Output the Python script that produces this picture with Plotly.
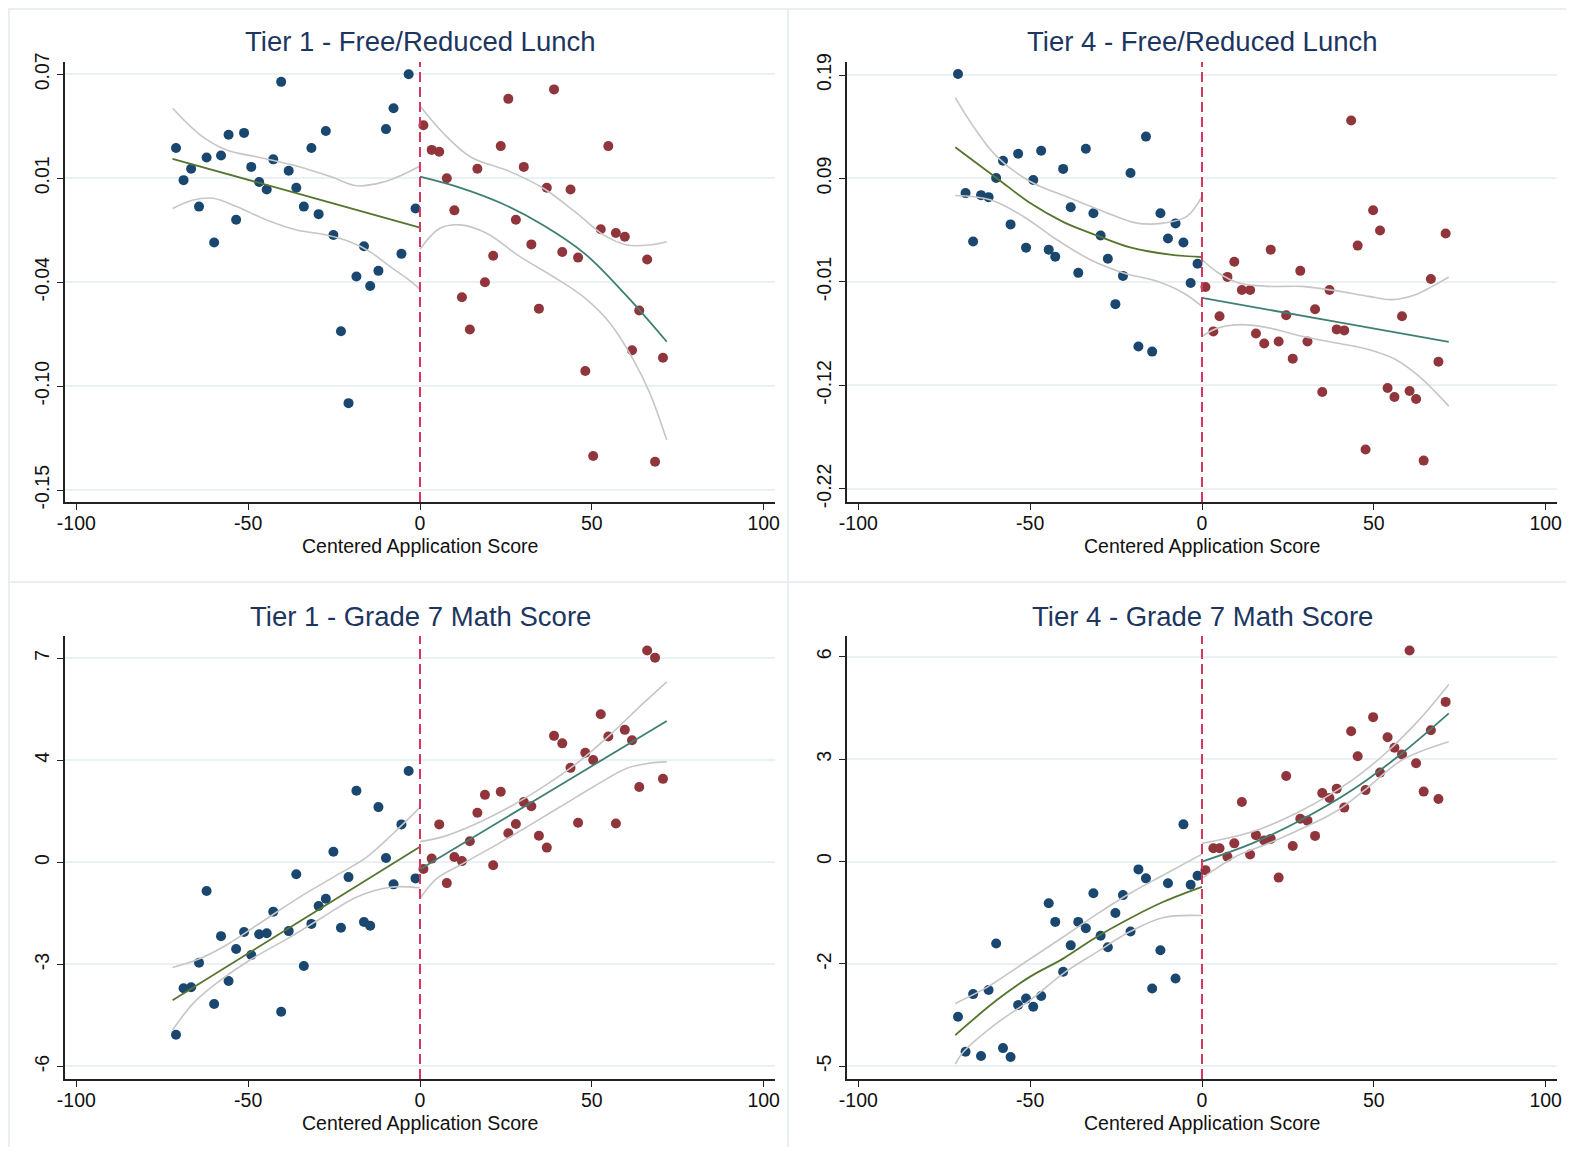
import plotly.graph_objects as go

# ---------------- data (binned means) ----------------
x_left = [-71.0, -68.8, -66.6, -64.3, -62.1, -59.9, -57.9, -55.7, -53.5, -51.2, -49.1,
          -46.8, -44.6, -42.7, -40.4, -38.2, -36.0, -33.8, -31.6, -29.5, -27.4, -25.2,
          -23.0, -20.8, -18.5, -16.3, -14.5, -12.1, -9.9, -7.7, -5.4, -3.3, -1.3]
x_right_t1 = [1.0, 3.4, 5.6, 7.8, 10.0, 12.2, 14.5, 16.7, 18.9, 21.3, 23.5, 25.7, 27.9,
              30.2, 32.4, 34.6, 36.9, 39.0, 41.4, 43.8, 46.0, 48.1, 50.4, 52.6, 54.8,
              57.0, 59.6, 61.7, 63.8, 66.1, 68.4, 70.7]
x_right_t4 = [1.0, 3.3, 5.1, 7.4, 9.4, 11.6, 14.0, 15.7, 18.1, 20.0, 22.3, 24.5, 26.4,
              28.6, 30.7, 32.9, 35.0, 37.1, 39.2, 41.4, 43.4, 45.3, 47.6, 49.8, 51.8,
              54.0, 56.0, 58.2, 60.4, 62.3, 64.5, 66.6, 68.8, 70.9]

# Tier 1 - Free/Reduced Lunch
t1_frl_left = [0.031, 0.014, 0.020, 0.000, 0.026, -0.019, 0.027, 0.038, -0.007, 0.039, 0.021,
               0.013, 0.009, 0.025, 0.066, 0.019, 0.010, 0.000, 0.031, -0.004, 0.040, -0.015,
               -0.066, -0.104, -0.037, -0.021, -0.042, -0.034, 0.041, 0.052, -0.025, 0.070, -0.001]
t1_frl_right = [0.043, 0.030, 0.029, 0.015, -0.002, -0.048, -0.065, 0.020, -0.040, -0.026, 0.032,
                0.057, -0.007, 0.021, -0.020, -0.054, 0.010, 0.062, -0.024, 0.009, -0.027, -0.087,
                -0.132, -0.012, 0.032, -0.014, -0.016, -0.076, -0.055, -0.028, -0.135, -0.080]
t1_frl_fit_l_x = [-72, -36, 0]
t1_frl_fit_l_y = [0.0253, 0.0071, -0.0111]
t1_frl_hi_l_x = [-72, -64, -56.3, -46.6, -34.9, -26.2, -18.4, -10.7, -4.9, 0]
t1_frl_hi_l_y = [0.052, 0.038, 0.030, 0.026, 0.021, 0.016, 0.011, 0.013, 0.017, 0.0215]
t1_frl_lo_l_x = [-72, -66, -60.2, -53.4, -44.6, -35.9, -27.2, -20.4, -14.6, -8.7, -3.9, 0]
t1_frl_lo_l_y = [-0.001, 0.0035, 0.0044, 0.0, -0.0071, -0.0124, -0.015, -0.0186, -0.0238,
                 -0.0318, -0.0379, -0.0437]
t1_frl_fit_r_x = [0, 12, 24, 36, 48, 60, 71.8]
t1_frl_fit_r_y = [0.0158, 0.0098, 0.0015, -0.0100, -0.0250, -0.0470, -0.0715]
t1_frl_hi_r_x = [0, 6.8, 14.6, 26.2, 35.9, 45.6, 53.4, 60.2, 66.9, 71.8]
t1_frl_hi_r_y = [0.0532, 0.0388, 0.0264, 0.0185, 0.0097, -0.0035, -0.015, -0.0203, -0.0203, -0.0186]
t1_frl_lo_r_x = [0, 5.8, 11.6, 19.4, 29.1, 38.8, 47.5, 55.3, 62.1, 66.9, 71.8]
t1_frl_lo_r_y = [-0.0226, -0.0115, -0.0097, -0.0141, -0.0265, -0.0371, -0.0477, -0.0617,
                 -0.0811, -0.0988, -0.1235]

# Tier 4 - Free/Reduced Lunch
t4_frl_left = [0.191, 0.073, 0.025, 0.071, 0.069, 0.088, 0.105, 0.042, 0.112, 0.019, 0.086,
               0.115, 0.017, 0.010, 0.097, 0.059, -0.006, 0.117, 0.053, 0.031, 0.008, -0.037,
               -0.009, 0.093, -0.079, 0.129, -0.084, 0.053, 0.028, 0.043, 0.024, -0.016, 0.003]
t4_frl_right = [-0.020, -0.064, -0.049, -0.010, 0.005, -0.023, -0.023, -0.066, -0.076, 0.017,
                -0.074, -0.048, -0.091, -0.004, -0.074, -0.042, -0.124, -0.023, -0.062, -0.063,
                0.145, 0.021, -0.181, 0.056, 0.036, -0.120, -0.129, -0.049, -0.123, -0.131,
                -0.192, -0.012, -0.094, 0.033]
t4_frl_fit_l_x = [-71.8, -59.7, -50, -40.3, -30.6, -20.9, -9.2, 0]
t4_frl_fit_l_y = [0.1185, 0.0878, 0.0631, 0.0443, 0.0311, 0.0192, 0.012, 0.0097]
t4_frl_hi_l_x = [-71.8, -66.5, -59.7, -50, -38.4, -28.7, -18.9, -11.2, -4.4, 0]
t4_frl_hi_l_y = [0.1676, 0.1389, 0.1092, 0.0845, 0.0681, 0.0548, 0.0433, 0.0433, 0.0499, 0.0698]
t4_frl_lo_l_x = [-71.8, -61.6, -52, -42.2, -32.5, -22.8, -13.1, -5.4, 0]
t4_frl_lo_l_y = [0.0706, 0.0664, 0.0499, 0.0268, 0.007, -0.0061, -0.0144, -0.0259, -0.0392]
t4_frl_fit_r_x = [0, 35.9, 71.8]
t4_frl_fit_r_y = [-0.0308, -0.0526, -0.0744]
t4_frl_hi_r_x = [0, 4.8, 10.7, 19.4, 29.1, 38.8, 48.5, 55.3, 62.1, 67, 71.8]
t4_frl_hi_r_y = [0.007, -0.0061, -0.016, -0.0194, -0.0194, -0.0236, -0.0293, -0.0325, -0.0276,
                 -0.0194, -0.0101]
t4_frl_lo_r_x = [0, 4.8, 11.6, 19.4, 29.1, 38.8, 48.5, 56.3, 63.1, 71.8]
t4_frl_lo_r_y = [-0.0688, -0.0605, -0.0573, -0.0605, -0.0688, -0.0753, -0.082, -0.0919,
                 -0.1084, -0.138]

# Tier 1 - Grade 7 Math Score
t1_math_left = [-4.99, -3.51, -3.48, -2.70, -0.41, -4.01, -1.85, -3.28, -2.26, -1.72, -2.45,
                -1.79, -1.76, -1.07, -4.26, -1.69, 0.12, -2.80, -1.46, -0.89, -0.66, 0.84,
                -1.58, 0.03, 2.78, -1.40, -1.52, 2.26, 0.64, -0.20, 1.71, 3.41, -0.01]
t1_math_right = [0.29, 0.62, 1.71, -0.16, 0.67, 0.54, 1.17, 2.08, 2.65, 0.41, 2.75, 1.43, 1.72,
                 2.42, 2.29, 1.35, 0.97, 4.53, 4.29, 3.51, 1.76, 3.99, 3.76, 5.22, 4.51, 1.74,
                 4.72, 4.39, 2.90, 7.25, 7.02, 3.16]
t1_math_fit_l_x = [-72, -36, 0]
t1_math_fit_l_y = [-3.89, -1.45, 1.0]
t1_math_hi_l_x = [-72, -64, -56.3, -46.6, -34.9, -25.2, -15.5, -7.8, 0]
t1_math_hi_l_y = [-2.85, -2.56, -2.13, -1.44, -0.60, 0.03, 0.67, 1.42, 2.25]
t1_math_lo_l_x = [-72, -66, -59.2, -49.5, -37.8, -28.2, -18.4, -8.7, 0]
t1_math_lo_l_y = [-4.84, -3.99, -3.35, -2.61, -1.88, -1.24, -0.60, -0.29, -0.31]
t1_math_fit_r_x = [0, 35.9, 71.8]
t1_math_fit_r_y = [0.28, 2.64, 5.00]
t1_math_hi_r_x = [0, 6.8, 16.5, 26.2, 35.9, 45.6, 55.3, 65, 71.8]
t1_math_hi_r_y = [1.16, 1.32, 1.74, 2.27, 2.91, 3.65, 4.56, 5.57, 6.25]
t1_math_lo_r_x = [0, 4.9, 11.6, 21.3, 31.1, 40.8, 50.5, 60.2, 66.9, 71.8]
t1_math_lo_r_y = [-0.65, -0.01, 0.41, 1.0, 1.63, 2.27, 2.91, 3.50, 3.66, 3.70]

# Tier 4 - Grade 7 Math Score
t4_math_left = [-3.67, -4.61, -3.06, -4.72, -2.95, -1.70, -4.51, -4.75, -3.35, -3.18, -3.40,
                -3.11, -0.62, -1.12, -2.46, -1.75, -1.12, -1.29, -0.35, -1.49, -1.80, -0.88,
                -0.40, -1.38, 0.29, 0.05, -2.91, -1.88, -0.08, -2.64, 1.50, -0.12, 0.12]
t4_math_right = [0.27, 0.86, 0.86, 0.63, 0.99, 2.10, 0.69, 1.21, 1.07, 1.11, 0.07, 2.80, 0.92,
                 1.65, 1.60, 1.19, 2.34, 2.21, 2.46, 1.95, 4.00, 3.33, 2.42, 4.38, 2.89, 3.84,
                 3.56, 3.38, 6.17, 3.14, 2.38, 4.03, 2.18, 4.79]
t4_math_fit_l_x = [-71.8, -59.7, -50, -40.3, -30.6, -20.9, -11.2, 0]
t4_math_fit_l_y = [-4.16, -3.22, -2.59, -2.10, -1.52, -1.02, -0.58, -0.18]
t4_math_hi_l_x = [-71.8, -62.6, -51.9, -40.3, -30.6, -20.9, -11.2, 0]
t4_math_hi_l_y = [-3.31, -2.88, -2.23, -1.52, -0.91, -0.35, 0.14, 0.70]
t4_math_lo_l_x = [-71.8, -69.4, -59.7, -50, -40.3, -30.6, -20.9, -11.2, 0]
t4_math_lo_l_y = [-4.94, -4.61, -3.84, -3.22, -2.50, -1.93, -1.38, -1.0, -0.95]
t4_math_fit_r_x = [0, 14.6, 29.1, 43.7, 58.2, 71.8]
t4_math_fit_r_y = [0.50, 0.99, 1.63, 2.42, 3.41, 4.48]
t4_math_hi_r_x = [0, 14.6, 29.1, 43.7, 53.4, 63.1, 71.8]
t4_math_hi_r_y = [0.99, 1.30, 1.88, 2.69, 3.41, 4.30, 5.26]
t4_math_lo_r_x = [0, 9.7, 19.4, 29.1, 38.8, 48.5, 58.2, 71.8]
t4_math_lo_r_y = [0.05, 0.63, 0.99, 1.39, 1.84, 2.51, 3.23, 3.72]

# titles and axis labels
titles = ["Tier 1 - Free/Reduced Lunch", "Tier 4 - Free/Reduced Lunch",
          "Tier 1 - Grade 7 Math Score", "Tier 4 - Grade 7 Math Score"]
x_title = "Centered Application Score"
x_ticks = [-100, -50, 0, 50, 100]
y_tickvals = [[-0.15, -0.095, -0.04, 0.015, 0.07],
              [-0.22, -0.1175, -0.015, 0.0875, 0.19],
              [-6, -2.75, 0.5, 3.75, 7],
              [-5, -2.25, 0.5, 3.25, 6]]
y_ticktext = [["-0.15", "-0.10", "-0.04", "0.01", "0.07"],
              ["-0.22", "-0.12", "-0.01", "0.09", "0.19"],
              ["-6", "-3", "0", "4", "7"],
              ["-5", "-2", "0", "3", "6"]]
y_ranges = [[-0.1563, 0.0765], [-0.233, 0.2029], [-6.40, 7.71], [-5.34, 6.56]]
x_range = [-103.3, 103.3]

# ---------------- style ----------------
PAGE_W, PAGE_H = 1574, 1155
OFF = 8                      # default page margin around the plot div
W, H = PAGE_W - 2 * OFF, PAGE_H - 2 * OFF
NAVY = "#1a476f"
MAROON = "#90353b"
GREEN = "#55752f"
TEAL = "#3f7f72"
CI_COL = "#c6c6c6"
CUT = "#d8365c"
GRID = "#eaf1f3"
TITLE_COL = "#1c3660"
FRAME = "#e3ebee"
FONT = "Liberation Sans, Arial, sans-serif"


def px_x(v):
    return (v - OFF) / W


def px_y(v):
    return 1 - (v - OFF) / H


# page-pixel layout of plot areas: (left, right, top, bottom)
boxes = [(65, 775, 62, 502), (847, 1557, 62, 502),
         (65, 775, 636, 1079), (847, 1557, 636, 1079)]

panels = [
    dict(xl=x_left, yl=t1_frl_left, xr=x_right_t1, yr=t1_frl_right,
         lines=[(t1_frl_hi_l_x, t1_frl_hi_l_y, CI_COL), (t1_frl_lo_l_x, t1_frl_lo_l_y, CI_COL),
                (t1_frl_hi_r_x, t1_frl_hi_r_y, CI_COL), (t1_frl_lo_r_x, t1_frl_lo_r_y, CI_COL),
                (t1_frl_fit_l_x, t1_frl_fit_l_y, GREEN), (t1_frl_fit_r_x, t1_frl_fit_r_y, TEAL)]),
    dict(xl=x_left, yl=t4_frl_left, xr=x_right_t4, yr=t4_frl_right,
         lines=[(t4_frl_hi_l_x, t4_frl_hi_l_y, CI_COL), (t4_frl_lo_l_x, t4_frl_lo_l_y, CI_COL),
                (t4_frl_hi_r_x, t4_frl_hi_r_y, CI_COL), (t4_frl_lo_r_x, t4_frl_lo_r_y, CI_COL),
                (t4_frl_fit_l_x, t4_frl_fit_l_y, GREEN), (t4_frl_fit_r_x, t4_frl_fit_r_y, TEAL)]),
    dict(xl=x_left, yl=t1_math_left, xr=x_right_t1, yr=t1_math_right,
         lines=[(t1_math_hi_l_x, t1_math_hi_l_y, CI_COL), (t1_math_lo_l_x, t1_math_lo_l_y, CI_COL),
                (t1_math_hi_r_x, t1_math_hi_r_y, CI_COL), (t1_math_lo_r_x, t1_math_lo_r_y, CI_COL),
                (t1_math_fit_l_x, t1_math_fit_l_y, GREEN), (t1_math_fit_r_x, t1_math_fit_r_y, TEAL)]),
    dict(xl=x_left, yl=t4_math_left, xr=x_right_t4, yr=t4_math_right,
         lines=[(t4_math_hi_l_x, t4_math_hi_l_y, CI_COL), (t4_math_lo_l_x, t4_math_lo_l_y, CI_COL),
                (t4_math_hi_r_x, t4_math_hi_r_y, CI_COL), (t4_math_lo_r_x, t4_math_lo_r_y, CI_COL),
                (t4_math_fit_l_x, t4_math_fit_l_y, GREEN), (t4_math_fit_r_x, t4_math_fit_r_y, TEAL)]),
]

fig = go.Figure()
layout = dict(width=W, height=H, autosize=False, margin=dict(l=0, r=0, t=0, b=0, pad=0),
              paper_bgcolor="white", plot_bgcolor="white", showlegend=False,
              font=dict(family=FONT, size=19.5, color="#111111"))
shapes = []
annotations = []

for i, p in enumerate(panels):
    n = "" if i == 0 else str(i + 1)
    xa, ya = "x" + n, "y" + n
    left, right, top, bottom = boxes[i]
    fig.add_trace(go.Scatter(x=p["xl"], y=p["yl"], mode="markers", xaxis=xa, yaxis=ya,
                             marker=dict(color=NAVY, size=10, line=dict(width=0))))
    fig.add_trace(go.Scatter(x=p["xr"], y=p["yr"], mode="markers", xaxis=xa, yaxis=ya,
                             marker=dict(color=MAROON, size=10, line=dict(width=0))))
    for lx, ly, col in p["lines"]:
        fig.add_trace(go.Scatter(x=lx, y=ly, mode="lines", xaxis=xa, yaxis=ya,
                                 line=dict(color=col, width=1.6 if col == CI_COL else 1.8,
                                           shape="spline", smoothing=1.0)))
    layout["xaxis" + n] = dict(domain=[px_x(left), px_x(right)], range=x_range, anchor=ya,
                               automargin=False,
                               tickvals=x_ticks, ticktext=[str(v) for v in x_ticks],
                               showline=True, linecolor="#222222", linewidth=1.6,
                               ticks="outside", ticklen=6, tickwidth=1.3, tickcolor="#222222",
                               ticklabelstandoff=-3,
                               showgrid=False, zeroline=False,
                               tickfont=dict(size=19.5, color="#111111"))
    layout["yaxis" + n] = dict(domain=[px_y(bottom), px_y(top)], range=y_ranges[i], anchor=xa,
                               automargin=False,
                               tickvals=y_tickvals[i], ticktext=y_ticktext[i], tickangle=-90,
                               showline=True, linecolor="#222222", linewidth=1.6,
                               ticks="outside", ticklen=6, tickwidth=1.3, tickcolor="#222222",
                               showgrid=True, gridcolor=GRID, gridwidth=2, zeroline=False,
                               tickfont=dict(size=19.5, color="#111111"))
    shapes.append(dict(type="line", xref=xa, yref=ya + " domain", x0=0, x1=0, y0=0, y1=1,
                       line=dict(color=CUT, width=2, dash="10px,5px"), layer="above"))
    cx = px_x((left + right) / 2)
    annotations.append(dict(text=titles[i], xref="paper", yref="paper", x=cx,
                            y=px_y(top - 20), xanchor="center", yanchor="middle",
                            showarrow=False, font=dict(size=27.5, color=TITLE_COL, family=FONT)))
    annotations.append(dict(text=x_title, xref="paper", yref="paper", x=cx,
                            y=px_y(bottom + 44), xanchor="center", yanchor="middle",
                            showarrow=False, font=dict(size=19.5, color="#111111", family=FONT)))

# frames of the combined graph
shapes.append(dict(type="line", xref="paper", yref="paper", x0=px_x(788), x1=px_x(788),
                   y0=0, y1=px_y(9), line=dict(color=FRAME, width=1.5)))
shapes.append(dict(type="line", xref="paper", yref="paper", x0=0, x1=1,
                   y0=px_y(582), y1=px_y(582), line=dict(color=FRAME, width=1.5)))
shapes.append(dict(type="line", xref="paper", yref="paper", x0=0, x1=1,
                   y0=px_y(9), y1=px_y(9), line=dict(color=FRAME, width=1.5)))
shapes.append(dict(type="line", xref="paper", yref="paper", x0=px_x(9), x1=px_x(9),
                   y0=0, y1=px_y(9), line=dict(color=FRAME, width=1.5)))

layout["shapes"] = shapes
layout["annotations"] = annotations
fig.update_layout(**layout)

fig.write_html("out.html", config={"displayModeBar": False})
